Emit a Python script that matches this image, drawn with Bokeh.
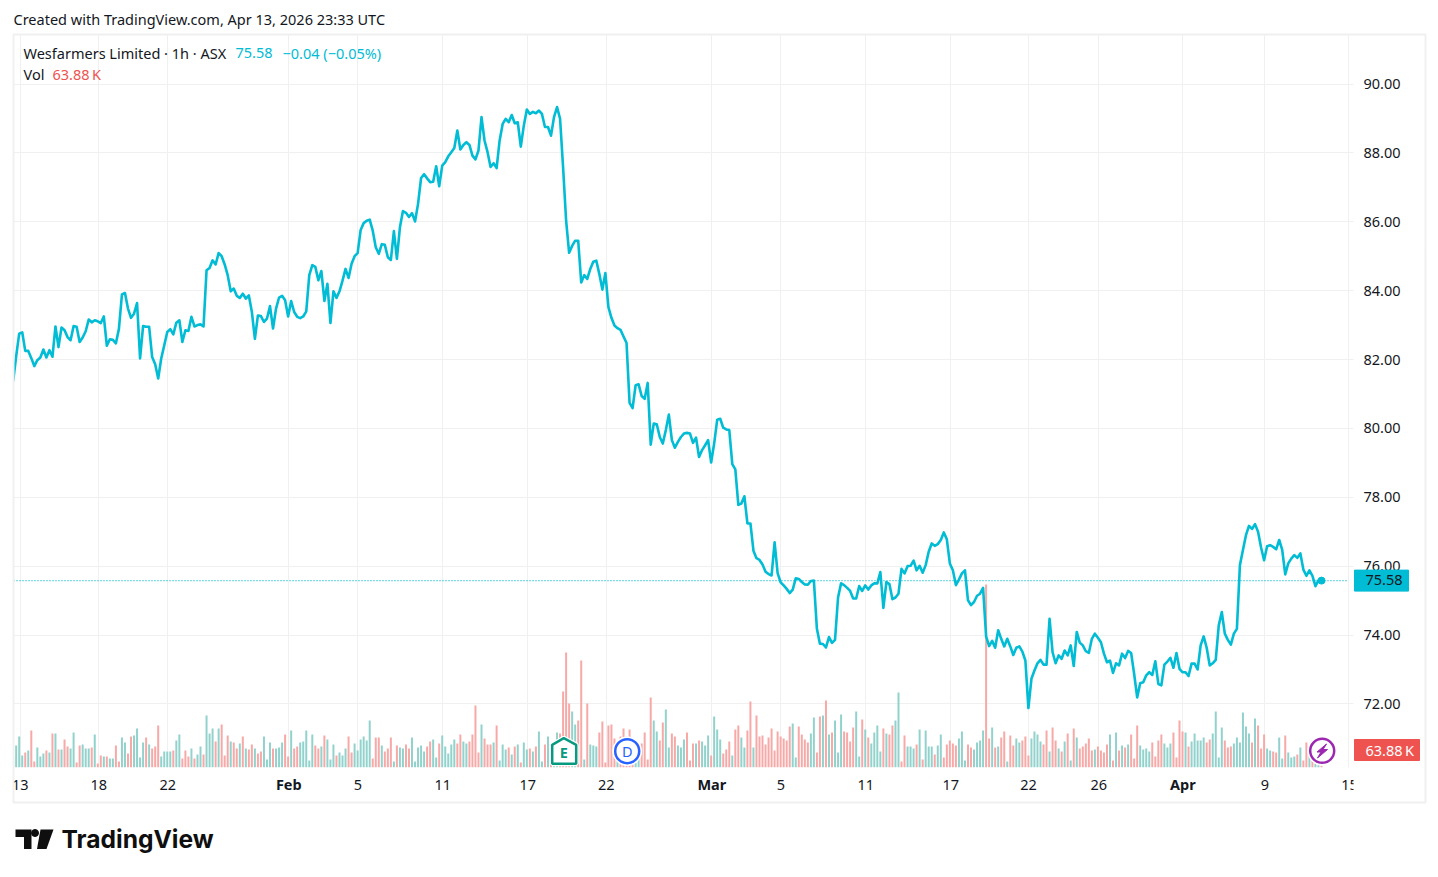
from bokeh.plotting import figure
from bokeh.models import (Range1d, FixedTicker, NumeralTickFormatter, Span, ColumnDataSource)
from bokeh.core.properties import value
from bokeh.embed import file_html
from bokeh.resources import INLINE

# ---------- data ----------
close = [
81.37,82.10,82.75,82.79,82.25,82.25,82.04,81.81,81.98,82.06,82.29,82.06,82.27,82.08,82.96,82.36,82.93,82.85,82.65,82.56,
82.97,82.95,82.51,82.64,82.82,83.16,83.08,83.14,83.11,83.06,83.25,82.40,82.59,82.57,82.47,82.89,83.89,83.93,83.48,83.21,
83.33,83.64,82.03,82.97,82.95,82.95,82.07,81.86,81.45,82.03,82.41,82.80,82.88,82.73,83.07,83.14,82.51,82.85,82.83,83.24,
82.96,83.00,83.02,82.96,84.59,84.66,84.88,84.76,85.09,85.00,84.76,84.45,83.98,84.06,83.85,83.79,83.91,83.77,83.86,83.38,
82.60,83.28,83.26,83.09,83.19,83.55,82.90,83.48,83.80,83.85,83.72,83.25,83.70,83.38,83.24,83.20,83.25,83.40,84.45,84.74,
84.69,84.30,84.57,83.70,84.20,83.06,83.98,83.79,83.98,
84.29,84.63,84.37,84.78,85.00,85.09,85.76,85.96,86.03,86.06,85.74,85.26,85.07,85.35,85.33,84.97,84.89,85.73,84.92,85.84,
86.31,86.26,86.14,86.25,86.01,86.52,87.27,87.38,87.26,87.15,87.16,87.61,87.03,87.63,87.73,87.90,88.02,88.14,88.65,88.10,
88.23,88.31,88.23,87.92,87.81,88.07,89.04,88.36,88.02,87.59,87.70,87.56,88.36,88.84,88.99,88.89,89.10,88.86,88.89,88.18,
88.79,89.26,89.13,89.19,89.15,89.23,89.13,88.75,88.75,88.50,89.04,89.33,88.99,87.58,86.03,85.10,
85.30,85.45,85.45,84.24,84.45,84.34,84.63,84.84,84.87,84.48,84.03,84.51,83.52,83.21,82.99,82.91,82.86,82.67,82.48,80.74,
80.59,81.25,81.28,80.94,80.86,81.32,79.53,80.14,80.12,79.75,79.56,79.95,80.40,79.66,79.44,79.61,79.75,79.85,79.87,79.85,
79.58,79.73,79.17,79.37,79.51,79.66,79.01,79.56,80.25,80.28,80.02,79.97,79.95,78.96,78.81,77.78,77.82,78.03,77.24,77.24,
76.45,76.23,76.18,76.05,75.84,75.77,75.73,76.69,75.80,75.53,75.44,75.34,75.22,75.32,75.65,75.63,
75.54,75.47,75.46,75.57,75.58,74.18,73.75,73.74,73.64,73.94,73.77,73.86,75.09,75.50,75.45,75.37,75.28,75.06,75.06,75.42,
75.28,75.44,75.32,75.44,75.50,75.50,75.83,74.79,75.54,75.48,75.04,75.09,75.20,75.92,75.79,76.00,76.01,76.16,75.88,76.01,
75.81,76.03,76.42,76.66,76.59,76.64,76.76,76.98,76.78,76.08,75.88,75.45,75.61,75.79,75.88,75.01,74.87,74.96,75.14,75.20,
75.37,73.96,73.68,73.83,73.63,74.14,73.89,73.67,73.89,73.67,73.42,73.63,73.67,73.52,73.26,71.88,72.73,72.97,73.18,73.28,
73.14,73.14,74.47,73.50,73.18,73.41,73.31,73.55,73.41,73.70,73.10,74.09,73.78,
73.70,73.53,73.48,73.89,74.04,73.92,73.79,73.46,73.21,73.26,72.90,73.18,73.12,73.46,73.33,73.54,73.48,72.87,72.19,72.60,
72.63,72.83,72.92,72.84,73.24,72.58,72.54,73.14,73.23,73.34,73.05,73.48,73.02,72.92,72.92,72.81,73.17,73.17,73.00,73.70,
73.96,73.63,73.12,73.18,73.28,74.28,74.67,74.04,73.86,73.72,74.04,74.18,76.03,76.47,76.90,77.17,77.08,77.22,77.00,76.54,
76.17,76.58,76.61,76.56,76.49,76.76,76.47,75.76,76.08,76.22,76.32,76.24,76.37,75.90,75.72,75.88,75.72,75.42,75.59,75.58,
]

# volume readings, one unit = 12.8 K; a negative sign marks a falling (red) bar
volume_reads = [
-33,66,93,36,-45,51,-111,-18,60,33,42,-51,45,-102,102,-54,54,-84,-63,57,105,-15,-66,69,57,57,-60,99,-12,-36,
33,-33,27,27,-66,-18,90,75,-42,-93,96,117,30,75,-90,69,-57,-63,-126,33,48,48,48,-51,81,99,-27,-51,-33,57,
-27,39,63,-39,156,102,117,-78,117,-129,-36,-96,78,-75,-57,72,-93,57,-54,-69,57,-42,-48,93,24,75,-57,57,60,75,
-99,-33,111,-57,-63,75,78,111,21,99,-66,-57,63,-96,84,24,69,-36,45,36,57,-93,-45,72,51,84,
93,81,141,-27,-90,-90,66,-48,-57,-90,18,-66,60,57,-69,-57,90,18,60,66,48,-63,-78,84,30,-72,96,63,42,69,
84,-72,-99,78,72,-78,-99,-186,-45,129,-87,-69,-69,75,-126,21,69,54,-60,
39,-63,69,-15,75,54,-57,48,-63,108,18,-69,93,-15,9,105,-102,-228,-345,-192,168,129,-141,-321,24,-192,69,66,63,-105,
-138,-15,-126,-129,-87,57,-93,-117,-93,-114,-41,21,36,-72,-105,-24,-210,141,108,-81,-135,174,60,-102,-93,66,60,84,-105,-21,
-72,72,-81,78,66,96,-36,153,114,84,-42,-54,-78,36,-114,-126,90,60,-111,-198,60,-156,-93,-96,-69,-90,-117,-51,-108,-93,
-87,-81,-123,132,30,-123,-99,-84,-75,102,150,-45,-153,156,-201,99,-105,141,45,159,-108,-105,-78,-120,168,33,
-144,114,-90,72,105,126,48,-117,102,-99,-126,141,225,-18,-96,63,63,57,-69,114,-24,111,63,63,-39,66,99,-30,-69,-81,
-72,-66,87,108,21,-69,-60,54,75,81,111,-549,-87,120,-60,63,-90,-108,18,-96,-66,87,75,-81,-93,-36,87,108,99,78,
-69,-111,48,-120,-81,57,-48,78,-102,21,-117,90,-57,-63,-72,-87,-51,54,-63,
-51,-45,-69,99,-21,105,-51,66,-60,69,-99,-27,-126,66,54,57,48,-75,-33,-81,-99,72,60,72,-105,-30,-141,-108,105,-63,
78,102,81,81,90,-75,-84,102,168,30,120,-81,-60,-63,72,90,75,165,123,102,-75,147,-126,-57,-99,57,51,-48,-45,90,
27,-96,45,30,33,-39,60,-21,-75,40,-20,12,7,-5,
]
VOL_UNIT_K = 12.8

y_ticks = [72, 74, 76, 78, 80, 82, 84, 86, 88, 90]
day_labels = ["13", "18", "22", "5", "11", "17", "22", "5", "11", "17", "22", "26", "9"]
month_labels = ["Feb", "Mar", "Apr"]

# ---------- layout helpers (image pixels -> axis units) ----------
PLOT_L, PLOT_R, PLOT_T, PLOT_B = 13, 1348, 34, 767
FIRST_BAR_PX, LAST_BAR_PX = 12.67, 1321.0
PRICE_AT_90_PX, PX_PER_UNIT = 83.5, 34.44
N = len(close)
pitch = (LAST_BAR_PX - FIRST_BAR_PX) / (N - 1)
def X(px): return (px - FIRST_BAR_PX) / pitch
def Y(py): return 90 - (py - PRICE_AT_90_PX) / PX_PER_UNIT
def PY(price): return PRICE_AT_90_PX + (90 - price) * PX_PER_UNIT

day_px = [19.67, 98.3, 167.3, 357.3, 442.3, 527.3, 605.7, 780.3, 865.3, 950.3, 1028, 1098.3, 1264.3]
month_px = [288.3, 711.3, 1182.3]
day_ticks = [X(v) for v in day_px]
month_ticks = [X(v) for v in month_px]
all_ticks = sorted(day_ticks + month_ticks)

LINE = "#00bcd4"
INK = "#131722"
GRID = "#f0f0f0"
UP = "#92d2cc"
DOWN = "#f7a9a7"
FONT = "Noto Sans"
TEXT_SIZE = "14.5px"

W, H = 1430, 804
p = figure(width=W, height=H, output_backend="svg", toolbar_location=None,
           x_range=Range1d(X(PLOT_L), X(PLOT_R)), y_range=Range1d(Y(PLOT_B), Y(PLOT_T)),
           y_axis_location="right", min_border_left=PLOT_L, min_border_right=W - PLOT_R,
           min_border_top=PLOT_T, min_border_bottom=H - PLOT_B, outline_line_color=None,
           background_fill_color="white", border_fill_color="white",
           styles={"position": "absolute", "left": "0px", "top": "0px"})
p.extra_y_ranges = {"vol": Range1d(0, (PLOT_B - PLOT_T) * 3 * VOL_UNIT_K)}

xa = p.xaxis[0]
xa.ticker = FixedTicker(ticks=all_ticks)
xa.major_label_overrides = {**{t: l for t, l in zip(day_ticks, day_labels)}, **{t: " " for t in month_ticks}}
xa.axis_line_color = None
xa.major_tick_line_color = None
xa.minor_tick_line_color = None
xa.major_tick_out = 0
xa.major_tick_in = 0
xa.major_label_standoff = 6
xa.major_label_text_font = FONT
xa.major_label_text_font_size = TEXT_SIZE
xa.major_label_text_color = INK

ya = p.yaxis[0]
ya.ticker = FixedTicker(ticks=y_ticks)
ya.formatter = NumeralTickFormatter(format="0.00")
ya.axis_line_color = GRID
ya.major_tick_line_color = GRID
ya.minor_tick_line_color = None
ya.major_tick_out = 5
ya.major_tick_in = 0
ya.major_label_standoff = 10
ya.major_label_text_font = FONT
ya.major_label_text_font_size = TEXT_SIZE
ya.major_label_text_color = INK

p.xgrid[0].ticker = FixedTicker(ticks=all_ticks)
p.ygrid[0].ticker = FixedTicker(ticks=y_ticks)
p.xgrid[0].grid_line_color = GRID
p.ygrid[0].grid_line_color = GRID

M = len(volume_reads)
vol_src = ColumnDataSource(dict(
    x=[i * (N - 1) / (M - 1) for i in range(M)],
    top=[abs(v) * VOL_UNIT_K for v in volume_reads],
    color=[UP if v > 0 else DOWN for v in volume_reads],
))
p.vbar(x="x", top="top", bottom=0, width=2.0 / pitch, color="color", source=vol_src,
       y_range_name="vol", line_color=None)

p.add_layout(Span(location=close[-1], dimension="width", line_color=LINE, line_width=1.3, line_dash="1 2"))
p.line(list(range(N)), close, line_color=LINE, line_width=2.6, line_join="round")
p.scatter([N - 1], [close[-1]], size=7, color=LINE)

# ---------- transparent sheet over the whole page for everything outside the plot frame ----------
o = figure(width=1430, height=870, output_backend="svg", toolbar_location=None,
           x_range=Range1d(0, 1430), y_range=Range1d(870, 0), x_axis_type=None, y_axis_type=None,
           min_border=0, outline_line_color=None, background_fill_alpha=0, border_fill_alpha=0,
           styles={"position": "absolute", "left": "0px", "top": "0px"})
o.grid.visible = False

def text(t, px, py, color=INK, size=TEXT_SIZE, align="left", style="normal", font=FONT):
    o.text([px], [py - 1], text=[t], text_color=color, text_font_size=size, text_align=align,
           text_baseline="middle", text_font=value(font), text_font_style=style)

# event markers
house_x = [551.7, 563.3, 575.7, 575.7, 551.7]
house_y = [744.3, 737.7, 744.3, 763.3, 763.3]
o.patch(house_x, house_y, fill_color="white", line_color="white", line_width=5)
o.patch(house_x, house_y, fill_color="white", line_color="#089981", line_width=2.5)
o.scatter([626.7], [750.7], size=29, color="white")
o.scatter([626.7], [750.7], size=24, fill_color="white", line_color="#2962ff", line_width=2.5)
o.scatter([1321.7], [750.3], size=29, color="white")
o.scatter([1321.7], [750.3], size=24, fill_color="white", line_color="#9c27b0", line_width=2.5)
o.patch([1326, 1316.5, 1320.5, 1317, 1327, 1322.5], [743.5, 751.5, 751.5, 757.5, 749, 749], color="#9c27b0")
text("E", 563.3, 752, color="#089981", align="center", style="bold")
text("D", 626.7, 751, color="#2962ff", align="center")

# frame around the chart
o.quad(left=[13], right=[1425], top=[34], bottom=[802], fill_alpha=0, line_color=GRID, line_width=2)

# month labels and the last, cut-off day label
for v, t in zip(month_px, month_labels):
    text(t, v, 784.5, align="center", style="bold")
text("15", 1349, 785, align="center")
o.quad(left=[1353.5], right=[1366], top=[776], bottom=[796], color="white")

# tags
price_y = PY(close[-1])
o.quad(left=[1354], right=[1408], top=[price_y - 10.5], bottom=[price_y + 10.5], color=LINE)
text(f"{close[-1]:.2f}", 1365, price_y)
o.quad(left=[1354], right=[1419], top=[739], bottom=[760], color="#ef5350")
text("63.88\u202fK", 1365, 750, color="white")

# header and legend
text("Created with TradingView.com, Apr 13, 2026 23:33 UTC", 13, 19)
text("Wesfarmers Limited \u00b7 1h \u00b7 ASX", 23, 53)
text("75.58", 235, 53, color=LINE)
text("\u22120.04 (\u22120.05%)", 282, 53, color=LINE)
text("Vol", 23, 74)
text("63.88\u202fK", 52, 74, color="#ef5350")

# logo
o.patch([15, 31, 31, 23.5, 23.5, 15], [829, 829, 848.5, 848.5, 836.5, 836.5], color="#0f0f0f", line_width=0)
o.patch([40, 53, 46, 36.5], [829, 829, 848.5, 848.5], color="#0f0f0f", line_width=0)
o.scatter([34.5], [832.5], size=7, color="#0f0f0f")
text("TradingView", 61, 839.5, color="#0f0f0f", size="24.6px", style="bold", font="Inter")

open("out.html", "w").write(file_html([p, o], INLINE))
